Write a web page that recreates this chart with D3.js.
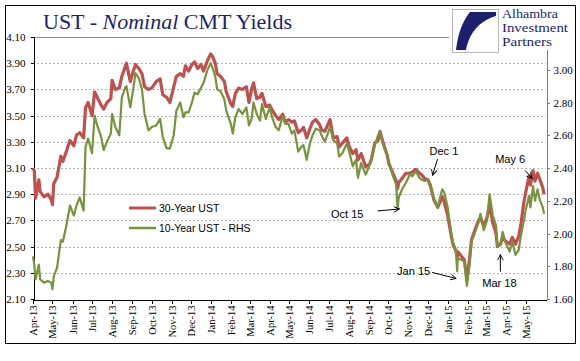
<!DOCTYPE html>
<html>
<head>
<meta charset="utf-8">
<title>UST - Nominal CMT Yields</title>
<script src="https://cdn.jsdelivr.net/npm/d3@7"></script>
<style>
body { margin: 0; background: #fff; }
svg text { font-family: 'Liberation Serif', 'Times New Roman', serif; }
.axis text { font-size: 11px; fill: #000; }
.axis path, .axis line { shape-rendering: crispEdges; }
.sans { font-family: 'Liberation Sans', Arial, sans-serif; }
</style>
</head>
<body>
<svg id="chart" width="580" height="361"></svg>
<script>
var dates = [
  "2013-04-01","2013-04-03","2013-04-05","2013-04-10","2013-04-12","2013-04-18","2013-04-24","2013-04-29",
  "2013-05-01","2013-05-03","2013-05-08","2013-05-14","2013-05-17","2013-05-22","2013-05-28",
  "2013-06-03","2013-06-07","2013-06-12","2013-06-18","2013-06-21","2013-06-25",
  "2013-07-01","2013-07-05","2013-07-09","2013-07-15","2013-07-19","2013-07-24","2013-07-30",
  "2013-08-01","2013-08-06","2013-08-12","2013-08-16","2013-08-21","2013-08-23","2013-08-29",
  "2013-09-04","2013-09-06","2013-09-11","2013-09-16","2013-09-20","2013-09-26",
  "2013-10-01","2013-10-08","2013-10-14","2013-10-18","2013-10-24","2013-10-29",
  "2013-11-04","2013-11-08","2013-11-14","2013-11-19","2013-11-22","2013-11-27",
  "2013-12-02","2013-12-06","2013-12-11","2013-12-16","2013-12-20","2013-12-26","2013-12-31",
  "2014-01-03","2014-01-07","2014-01-10","2014-01-15","2014-01-21","2014-01-24","2014-01-31",
  "2014-02-03","2014-02-07","2014-02-12","2014-02-18","2014-02-24","2014-02-28",
  "2014-03-04","2014-03-07","2014-03-12","2014-03-17","2014-03-20","2014-03-26",
  "2014-04-01","2014-04-04","2014-04-10","2014-04-15","2014-04-21","2014-04-25","2014-04-30",
  "2014-05-05","2014-05-09","2014-05-15","2014-05-20","2014-05-23","2014-05-28",
  "2014-06-02","2014-06-06","2014-06-11","2014-06-17","2014-06-20","2014-06-25",
  "2014-07-03","2014-07-08","2014-07-14","2014-07-17","2014-07-22","2014-07-29",
  "2014-08-01","2014-08-07","2014-08-12","2014-08-15","2014-08-20","2014-08-27",
  "2014-09-02","2014-09-05","2014-09-10","2014-09-15","2014-09-18","2014-09-23","2014-09-29",
  "2014-10-02","2014-10-08","2014-10-13","2014-10-15","2014-10-17","2014-10-22","2014-10-28",
  "2014-11-03","2014-11-07","2014-11-12","2014-11-18","2014-11-21","2014-11-26",
  "2014-12-01","2014-12-05","2014-12-10","2014-12-16","2014-12-23","2014-12-26","2014-12-31",
  "2015-01-06","2015-01-09","2015-01-13","2015-01-15","2015-01-16","2015-01-21","2015-01-26","2015-01-30",
  "2015-02-03","2015-02-06","2015-02-11","2015-02-17","2015-02-20","2015-02-25",
  "2015-03-02","2015-03-06","2015-03-11","2015-03-16","2015-03-18","2015-03-23","2015-03-26","2015-03-31",
  "2015-04-06","2015-04-10","2015-04-15","2015-04-20","2015-04-23","2015-04-28",
  "2015-05-01","2015-05-06","2015-05-08","2015-05-12","2015-05-15","2015-05-19","2015-05-22","2015-05-27","2015-05-29"
];

// 30-Year UST (left axis)
var ust30 = [
  3.10,3.08,2.87,3.01,2.92,2.88,2.90,2.86,
  2.82,2.98,3.03,3.19,3.15,3.22,3.31,
  3.27,3.35,3.37,3.33,3.56,3.60,
  3.50,3.68,3.64,3.58,3.55,3.60,3.63,
  3.77,3.70,3.71,3.80,3.87,3.90,3.76,
  3.86,3.89,3.86,3.82,3.72,3.70,
  3.71,3.76,3.78,3.66,3.64,3.60,
  3.72,3.80,3.82,3.80,3.88,3.84,
  3.89,3.91,3.86,3.89,3.84,3.92,3.97,
  3.95,3.90,3.82,3.80,3.76,3.68,3.59,
  3.57,3.67,3.71,3.70,3.72,3.60,
  3.70,3.75,3.63,3.64,3.67,3.57,
  3.58,3.55,3.50,3.47,3.51,3.45,3.47,
  3.45,3.46,3.37,3.39,3.41,3.33,
  3.40,3.45,3.47,3.43,3.39,3.38,
  3.47,3.33,3.34,3.26,3.29,3.33,
  3.27,3.21,3.24,3.16,3.21,3.11,
  3.13,3.17,3.29,3.31,3.38,3.29,3.20,
  3.13,3.06,3.00,2.94,2.99,3.02,3.06,
  3.06,3.07,3.09,3.06,3.05,3.02,
  3.01,2.96,2.86,2.80,2.88,2.84,2.75,
  2.58,2.51,2.47,2.42,2.46,2.43,2.40,2.25,
  2.40,2.55,2.62,2.70,2.72,2.66,
  2.72,2.82,2.68,2.60,2.50,2.52,2.57,2.54,
  2.52,2.57,2.52,2.58,2.66,2.84,
  2.92,3.04,2.97,3.08,3.00,3.06,3.02,2.95,2.90
];

// 10-Year UST (right axis)
var ust10 = [
  1.86,1.81,1.72,1.81,1.72,1.70,1.71,1.70,
  1.66,1.74,1.79,1.96,1.95,2.04,2.17,
  2.11,2.17,2.22,2.14,2.53,2.58,
  2.49,2.72,2.66,2.59,2.51,2.56,2.61,
  2.73,2.65,2.60,2.83,2.89,2.90,2.77,
  2.92,2.98,2.95,2.88,2.73,2.63,
  2.65,2.66,2.70,2.59,2.52,2.52,
  2.60,2.75,2.80,2.71,2.74,2.74,
  2.80,2.86,2.85,2.89,2.92,3.00,3.04,
  3.01,2.96,2.88,2.87,2.82,2.75,2.67,
  2.61,2.71,2.76,2.73,2.77,2.66,
  2.70,2.80,2.73,2.69,2.79,2.70,
  2.77,2.72,2.65,2.63,2.72,2.67,2.67,
  2.61,2.63,2.50,2.53,2.54,2.45,
  2.55,2.60,2.64,2.63,2.60,2.56,
  2.65,2.57,2.55,2.47,2.49,2.55,
  2.51,2.41,2.45,2.34,2.43,2.36,
  2.42,2.46,2.54,2.60,2.62,2.54,2.48,
  2.43,2.35,2.30,2.15,2.22,2.27,2.31,
  2.36,2.35,2.38,2.34,2.33,2.32,
  2.33,2.30,2.20,2.16,2.27,2.25,2.17,
  2.00,1.94,1.90,1.77,1.85,1.84,1.83,1.68,
  1.80,1.95,2.00,2.07,2.12,2.02,
  2.08,2.24,2.11,2.05,1.92,1.93,2.01,1.94,
  1.89,1.95,1.87,1.90,1.98,2.08,
  2.15,2.23,2.16,2.29,2.20,2.27,2.21,2.16,2.12
];

var leftTicks = [2.10, 2.30, 2.50, 2.70, 2.90, 3.10, 3.30, 3.50, 3.70, 3.90, 4.10];
var rightTicks = [1.60, 1.80, 2.00, 2.20, 2.40, 2.60, 2.80, 3.00, 3.20];
var monthTicks = [
  "2013-04-01","2013-05-01","2013-06-01","2013-07-01","2013-08-01","2013-09-01","2013-10-01",
  "2013-11-01","2013-12-01","2014-01-01","2014-02-01","2014-03-01","2014-04-01","2014-05-01",
  "2014-06-01","2014-07-01","2014-08-01","2014-09-01","2014-10-01","2014-11-01","2014-12-01",
  "2015-01-01","2015-02-01","2015-03-01","2015-04-01","2015-05-01"
];
var seriesNames = ["30-Year UST", "10-Year UST - RHS"];
var brandLines = ["Alhambra", "Investment", "Partners"];

// call-outs: label, date pointed at, value pointed at, which axis
var noteLabels = ["Oct 15", "Dec 1", "Jan 15", "Mar 18", "May 6"];
var noteDates = ["2014-10-15", "2014-12-05", "2015-01-15", "2015-03-18", "2015-05-06"];
var noteValues = [2.15, 3.03, 1.75, 1.92, 3.02];
var noteAxis = ["right", "left", "right", "right", "left"];

var parse = d3.timeParse("%Y-%m-%d");
var rows = dates.map(function(d, i) {
  return { date: parse(d), y30: ust30[i], y10: ust10[i] };
});

var plot = { left: 33, right: 546, top: 37, bottom: 299 };
var red = "#c0504d", green = "#77933c", navy = "#1c1f6e";

var svg = d3.select("#chart");

var x = d3.scaleTime()
          .domain([parse("2013-04-01"), parse("2015-06-01")])
          .range([plot.left, plot.right]);
var yL = d3.scaleLinear().domain([2.10, 4.10]).range([plot.bottom, plot.top]);
var yR = d3.scaleLinear().domain([1.60, 3.20]).range([plot.bottom, plot.top]);

// outer frame
svg.append("rect")
   .attr("x", 5.5).attr("y", 5.5)
   .attr("width", 570).attr("height", 338)
   .attr("fill", "#fff").attr("stroke", "#000");

// dashed gridlines
svg.append("g")
   .selectAll("line")
   .data(leftTicks.slice(1, -1))
   .enter()
   .append("line")
   .attr("x1", plot.left).attr("x2", plot.right)
   .attr("y1", function(d) { return Math.round(yL(d)) + 0.5; })
   .attr("y2", function(d) { return Math.round(yL(d)) + 0.5; })
   .attr("stroke", "#b4b4b4")
   .attr("stroke-dasharray", "2,2");

// top border of plot area
svg.append("line")
   .attr("x1", plot.left).attr("x2", plot.right)
   .attr("y1", plot.top + 0.5).attr("y2", plot.top + 0.5)
   .attr("stroke", "#8a8a8a");

var fmt = d3.format(".2f");

var leftAxis = svg.append("g")
   .attr("class", "axis")
   .attr("transform", "translate(" + (plot.left + 0.5) + ",0)")
   .call(d3.axisLeft(yL).tickValues(leftTicks).tickSize(3).tickPadding(5).tickFormat(fmt));
leftAxis.selectAll("path, line").attr("stroke", "#000");

var rightAxis = svg.append("g")
   .attr("class", "axis")
   .attr("transform", "translate(" + (plot.right + 0.5) + ",0)")
   .call(d3.axisRight(yR).tickValues(rightTicks).tickSize(3).tickPadding(4).tickFormat(fmt));
rightAxis.selectAll("path, line").attr("stroke", "#7f7f7f");

var bottomAxis = svg.append("g")
   .attr("class", "axis")
   .attr("transform", "translate(0," + (plot.bottom + 0.5) + ")")
   .call(d3.axisBottom(x).tickValues(monthTicks.map(parse)).tickSize(4).tickSizeOuter(0)
           .tickFormat(d3.timeFormat("%b-%y")));
bottomAxis.selectAll("path, line").attr("stroke", "#000");
bottomAxis.selectAll("text")
   .attr("transform", "rotate(-90)")
   .attr("text-anchor", "end")
   .attr("x", -6)
   .attr("y", 0)
   .attr("dy", "0.33em")
   .style("font-size", "10.5px");

// series
var line30 = d3.line().x(function(d) { return x(d.date); }).y(function(d) { return yL(d.y30); });
var line10 = d3.line().x(function(d) { return x(d.date); }).y(function(d) { return yR(d.y10); });

svg.append("path")
   .datum(rows)
   .attr("d", line30)
   .attr("fill", "none")
   .attr("stroke", red)
   .attr("stroke-width", 3.2)
   .attr("stroke-linejoin", "round");

svg.append("path")
   .datum(rows)
   .attr("d", line10)
   .attr("fill", "none")
   .attr("stroke", green)
   .attr("stroke-width", 2.2)
   .attr("stroke-linejoin", "round");

// legend
var legend = svg.append("g").attr("transform", "translate(129,208)");
legend.selectAll("line")
   .data(seriesNames)
   .enter()
   .append("line")
   .attr("x1", 0).attr("x2", 27)
   .attr("y1", function(d, i) { return i * 20; })
   .attr("y2", function(d, i) { return i * 20; })
   .attr("stroke", function(d, i) { return i ? green : red; })
   .attr("stroke-width", function(d, i) { return i ? 2.5 : 3; });
legend.selectAll("text")
   .data(seriesNames)
   .enter()
   .append("text")
   .attr("class", "sans")
   .attr("x", 30)
   .attr("y", function(d, i) { return i * 20 + 4; })
   .style("font-size", "10.5px")
   .attr("fill", "#000")
   .text(function(d) { return d; });

// call-out arrows
svg.append("defs").append("marker")
   .attr("id", "head")
   .attr("viewBox", "0 0 10 10")
   .attr("refX", 9).attr("refY", 5)
   .attr("markerWidth", 7).attr("markerHeight", 7)
   .attr("markerUnits", "userSpaceOnUse")
   .attr("orient", "auto")
   .append("path")
   .attr("d", "M1,1 L9,5 L1,9")
   .attr("fill", "none")
   .attr("stroke", "#000")
   .attr("stroke-width", 1.3);

// arrow offsets from the point: [tip dx, tip dy, tail dx, tail dy, text dx, text dy, anchor]
var noteLayout = [
  [2, 0, -20, 2, -14, 7, "end"],
  [2, -2, 7, -18, -8, -4, "start"],
  [-1, 4, -25, -2, -2, 3, "end"],
  [3, 8, 3, 25, -18, 15, "start"],
  [3, 0, -4, -8, -30, -7, "start"]
];

var notes = svg.append("g");
noteLabels.forEach(function(label, i) {
  var d = parse(noteDates[i]);
  var px = x(d);
  var py = noteAxis[i] === "left" ? yL(noteValues[i]) : yR(noteValues[i]);
  var L = noteLayout[i];
  var tip = [px + L[0], py + L[1]];
  var tail = [px + L[2], py + L[3]];
  notes.append("line")
       .attr("x1", tail[0]).attr("y1", tail[1])
       .attr("x2", tip[0]).attr("y2", tip[1])
       .attr("stroke", "#000").attr("stroke-width", 1)
       .attr("marker-end", "url(#head)");
  notes.append("text")
       .attr("class", "sans")
       .attr("x", tail[0] + L[4])
       .attr("y", tail[1] + L[5])
       .attr("text-anchor", L[6])
       .style("font-size", "11px")
       .attr("fill", "#000")
       .text(label);
});

// logo block (covers the top of the right axis)
var logo = svg.append("g");
logo.append("rect")
    .attr("x", 449).attr("y", 6).attr("width", 126).attr("height", 44)
    .attr("fill", "#fff");
logo.append("rect")
    .attr("x", 452.5).attr("y", 9.5).attr("width", 46).attr("height", 43)
    .attr("fill", "#fff").attr("stroke", "#b8b8b8");
logo.append("path")
    .attr("d", "M470,12 L496,12 L496,16 C482,20 470,30 466,50 L456,50 C458,34 462,22 470,12 Z")
    .attr("fill", navy);
var brandWidths = [56, 66, 50];
logo.selectAll("text.brand")
    .data(brandLines)
    .enter()
    .append("text")
    .attr("class", "brand")
    .attr("x", 502)
    .attr("y", function(d, i) { return 18 + i * 14; })
    .attr("textLength", function(d, i) { return brandWidths[i]; })
    .attr("lengthAdjust", "spacingAndGlyphs")
    .style("font-size", "11.5px")
    .attr("fill", navy)
    .text(function(d) { return d; });

// title
var title = svg.append("text")
   .attr("x", 43).attr("y", 29)
   .style("font-size", "22px")
   .attr("fill", navy);
title.append("tspan").text("UST - ");
title.append("tspan").style("font-style", "italic").text("Nominal");
title.append("tspan").text(" CMT Yields");
</script>
</body>
</html>
